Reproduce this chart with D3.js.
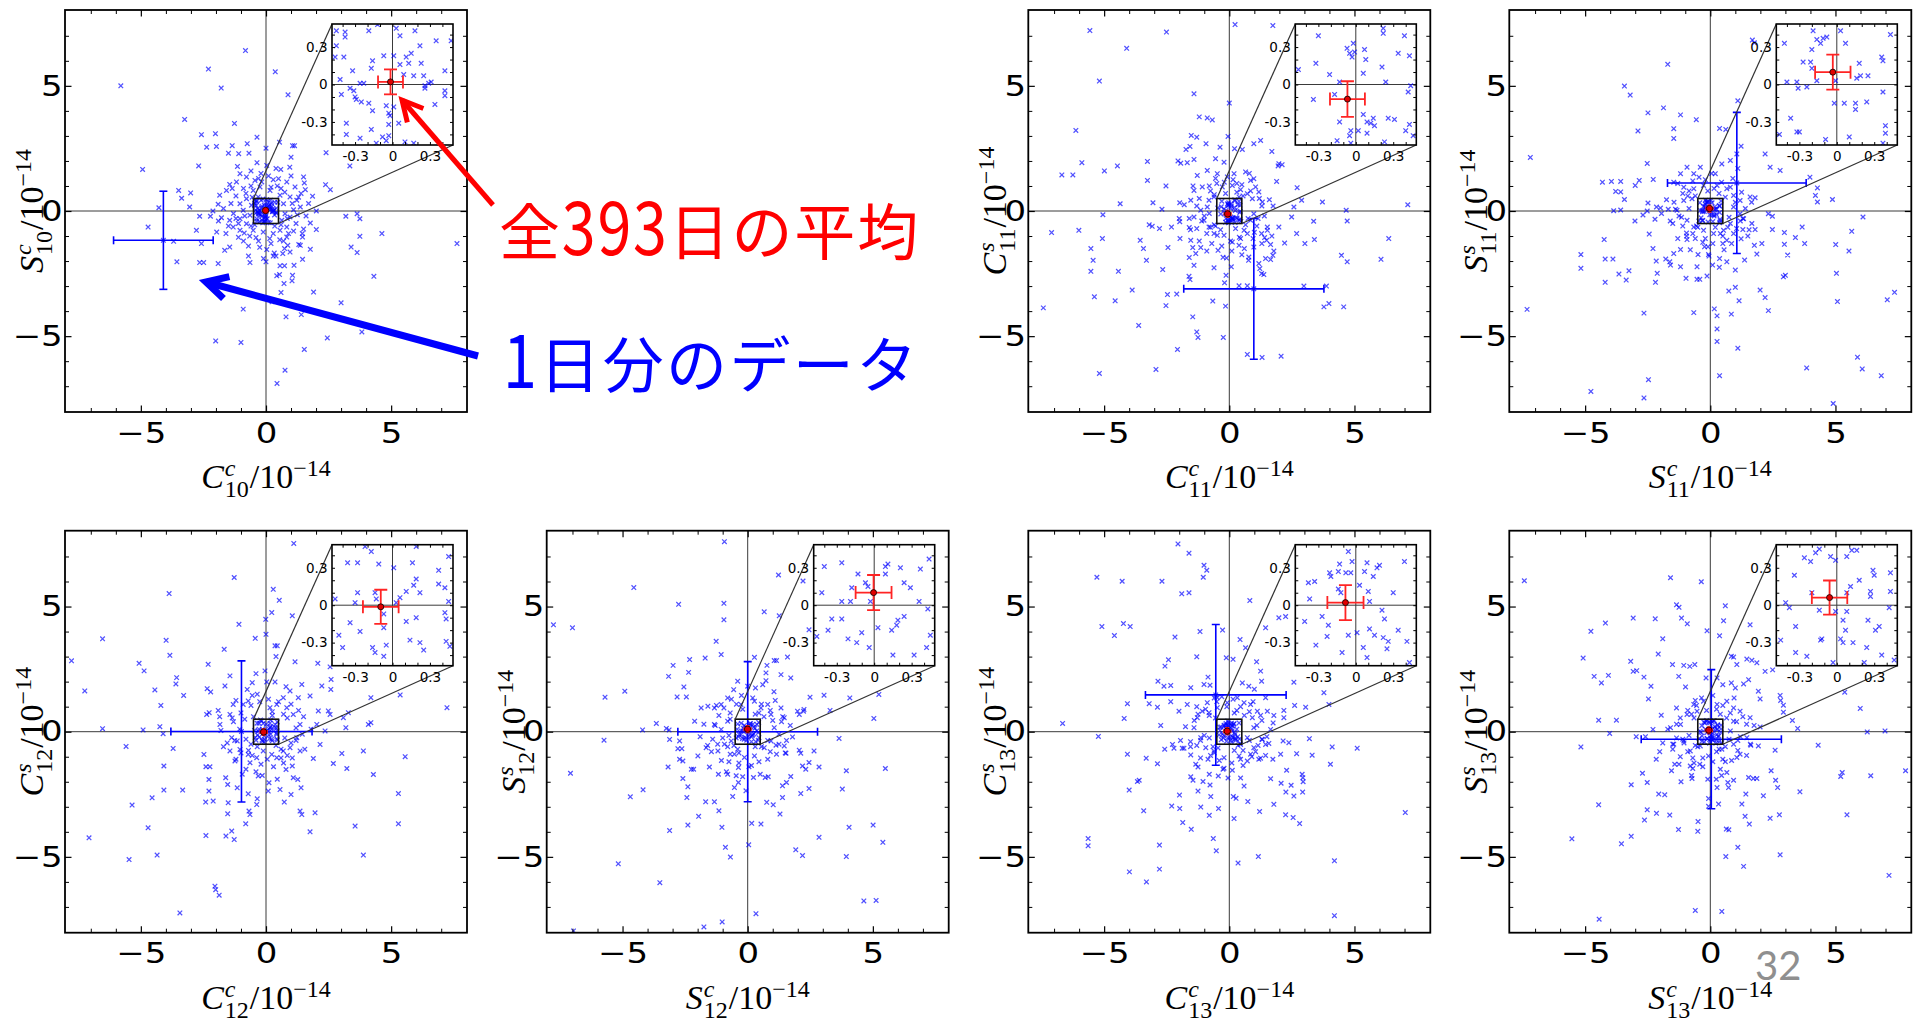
<!DOCTYPE html>
<html>
<head>
<meta charset="utf-8">
<script src="https://cdn.jsdelivr.net/npm/d3@7"></script>
<style>
  body { margin: 0; background: #fff; }
  svg { display: block; }
</style>
</head>
<body>
<svg id="chart" width="1915" height="1031"></svg>
<script>
// ---------------------------------------------------------------
// Daily tidal coefficient estimates (units of 1e-14), one cross per day.
// "Outer" lists are the scattered days, "core" lists are days in the
// crowded centre, "fine" lists are days inside the +-0.5 zoom window.
// ---------------------------------------------------------------
const c10s10Outer = [[-5.8,5.0],[-0.82,6.41],[-2.3,5.67],[-1.79,4.91],[0.37,5.56],[0.88,4.64],[-3.25,3.66],[-1.26,3.5],[-2.58,3.05],[-2.02,3.09],[-2.37,2.55],[-1.98,2.58],[-1.35,2.61],[-0.75,2.69],[-0.36,2.95],[-1.09,2.29],[-0.68,2.31],[-1.5,2.31],[0,2.51],[0.54,2.75],[1.06,2.61],[1.14,2.61],[1.0,2.15],[-4.93,1.66],[-2.69,1.8],[-1.14,1.78],[-0.36,1.93],[0.03,1.82],[0.59,1.66],[2.4,2.33],[3.35,1.8],[2.38,1.05],[2.57,0.85],[-3.49,0.82],[-3.01,0.72],[-3.37,0.51],[-3.05,0.16],[-4.28,0.13],[-4.71,-0.64],[-3.69,-1.21],[-2.58,-1.3],[-2.78,-0.77],[-2.22,-0.21],[-2.65,-0.21],[-2.12,0],[-1.97,-0.84],[-1.45,-1.44],[-1.65,-1.57],[-3.56,-2.03],[-2.65,-2.06],[-2.49,-2.06],[-1.91,-2.1],[-0.64,-2.06],[0,-2.03],[0.29,-1.8],[0.56,-2.19],[0.74,-2.19],[1.12,-2.17],[1.46,-1.93],[1.77,-1.53],[0.43,-2.59],[0.54,-2.54],[0.72,-2.9],[1.06,-2.57],[1.04,-2.79],[0.6,-3.26],[1.9,-3.24],[0.24,-3.63],[-0.91,-3.92],[0.8,-4.23],[1.41,-4.14],[3.0,-3.67],[4.31,-2.61],[3.83,-4.83],[2.45,-5.07],[1.53,-5.53],[-2.01,-5.19],[-1.0,-5.25],[0.76,-6.36],[0.44,-6.89],[7.63,-1.3],[4.63,-0.9],[3.75,-1.01],[3.4,-1.44],[3.64,-1.66],[3.19,-0.21],[3.75,-0.31],[3.64,-0.11],[2.01,0],[1.86,0.59],[1.57,0.85],[1.5,1.36],[1.53,1.12],[1.77,-0.48],[2.01,-0.74],[1.5,-0.72],[1.46,-1.04],[1.31,-1.34],[1.37,-1.37],[0.83,-1.04],[0.87,-1.37],[0.74,-1.5],[0.96,-1.64],[0.67,-1.7],[0.33,-1.68],[0.03,-1.54],[-0.4,-1.06],[-0.87,-0.88],[-1.04,-0.77],[-1.31,-0.64],[-1.45,-0.37],[-1.78,-0.27],[-1.91,0.27],[-1.85,0.63],[-1.58,0.82],[-1.45,1.06],[-1.18,1.16],[-1.04,1.49],[-0.78,1.36],[-0.44,1.22],[-0.17,1.16],[0.29,1.25],[0.5,1.29],[0.83,1.16],[1.16,0.96],[0.96,0.56],[1.23,0.43],[1.1,0.05],[1.37,0.16],[0.96,-0.24],[0.83,-0.64],[0.56,-0.77],[0.29,-0.9],[-0.11,-0.84],[-0.51,-0.77],[-0.78,-0.51],[-1.04,-0.31],[-0.91,0.03],[-1.04,0.29],[-0.78,0.49],[-0.51,0.82],[-0.24,0.96],[0.16,0.82],[0.56,0.63],[0.7,0.29],[0.76,-0.11],[0.63,-0.37],[-0.64,-0.17],[-0.58,0.23],[-0.31,0.56]];
const c10s10Core = [[-1.2,0.6],[-0.9,-1.2],[1.2,-0.5],[0.7,-1.2],[-0.6,1.6],[0.4,1.7],[1.4,0.7],[-1.6,-0.9],[-0.7,-1.4],[0.2,-1.3],[1.0,1.4],[-1.3,-0.1],[1.6,-0.2],[-0.2,1.5],[0.6,0.9],[-0.9,0.9],[-0.6,-0.6],[0.6,-0.55],[-1.1,-0.5],[1.05,0.3],[-0.3,-1.2],[0.35,-0.6],[-0.55,0.55],[0.9,-0.9],[-1.4,0.3],[-1.2,-0.3],[-0.8,0.7],[-0.6,1.0],[-0.3,1.3],[0.1,1.4],[0.45,1.0],[0.75,0.75],[1.3,0.55],[1.25,-0.15],[1.1,-0.8],[0.55,-1.15],[0.15,-1.1],[-0.25,-1.45],[-0.65,-1.0],[-1.1,-1.05],[-1.5,-0.6],[-1.7,0.1],[-1.35,0.9],[0.95,1.75],[-0.1,-1.9],[0.4,-1.8],[1.7,0.3],[-0.7,-1.8],[1.45,-0.9],[-1.9,-0.4],[0.85,-0.3],[-0.85,-0.2],[0.2,0.95],[-0.45,-0.55]];
const c10s10Fine = [[-0.45,0.43],[-0.38,0.42],[-0.38,0.38],[-0.45,0.31],[-0.39,0.22],[-0.46,0.22],[-0.19,0.43],[-0.12,0.48],[0.03,0.45],[0.06,0.39],[0.18,0.43],[0.35,0.35],[0.47,0.35],[0.22,0.31],[0.01,0.23],[-0.07,0.23],[-0.16,0.19],[-0.17,0.13],[-0.32,0.11],[-0.42,0.04],[-0.26,0.01],[-0.23,0.01],[0.06,0.16],[0.11,0.22],[0.15,0.25],[0.13,0.17],[0.23,0.17],[0.25,0.07],[0.17,0.07],[0.09,0.08],[0.42,0.11],[0.31,0.02],[0.29,0.01],[0.26,-0.01],[0.42,-0.05],[0.42,-0.09],[0.34,-0.16],[-0.34,-0.03],[-0.31,-0.05],[-0.3,-0.1],[-0.29,-0.12],[-0.41,-0.08],[-0.25,-0.14],[-0.19,-0.15],[-0.16,-0.21],[-0.05,-0.17],[0.01,-0.18],[-0.03,-0.23],[-0.02,-0.25],[-0.03,-0.32],[0.05,-0.31],[-0.37,-0.31],[-0.37,-0.4],[-0.26,-0.43],[-0.17,-0.36],[-0.08,-0.42],[-0.05,-0.45],[-0.03,-0.41],[-0.13,-0.47],[0.1,-0.46],[0.17,-0.47],[0.26,-0.03]];

const c11c11sOuter = [[-5.57,7.21],[-2.51,7.15],[-4.1,6.5],[0.23,7.45],[1.74,7.41],[-5.19,5.19],[-1.41,4.68],[0,4.31],[-1.2,3.76],[-0.88,3.72],[-0.68,3.64],[-6.13,3.22],[-1.52,3.02],[-1.3,2.95],[-0.05,2.98],[-0.93,2.69],[-0.37,2.55],[0.21,2.49],[0.52,2.46],[0.98,2.69],[1.25,2.82],[1.7,2.38],[-1.57,2.58],[-1.73,2.46],[-5.89,1.93],[-4.47,1.8],[-4.99,1.6],[-3.27,1.98],[-3.27,1.22],[-6.69,1.44],[-6.25,1.44],[-2.53,1.0],[-2.05,2.0],[-1.94,1.91],[-1.68,1.93],[-1.41,2.06],[-0.55,2.09],[-0.21,1.95],[1.98,1.89],[2.11,1.85],[1.89,1.18],[-4.36,0.29],[-3.05,0.33],[-2.69,0.07],[-1.98,0.33],[-5.05,-0.15],[-6.01,-0.77],[-7.1,-0.86],[-3.2,-0.55],[-3.08,-0.61],[-2.79,-0.7],[-2.31,-0.64],[-1.98,-0.43],[-1.6,-0.66],[-5.07,-1.1],[-5.53,-1.5],[-5.44,-1.97],[-5.53,-2.41],[-4.43,-2.41],[-5.39,-3.43],[-4.56,-3.59],[-7.43,-3.87],[-3.56,-1.17],[-3.43,-1.5],[-3.31,-1.97],[-3.88,-3.16],[-3.62,-4.57],[-2.45,-1.46],[-1.97,-1.1],[-1.54,-1.17],[-1.46,-1.46],[-1.14,-1.46],[-1.34,-1.7],[-1.6,-1.86],[-1.41,-2.17],[-2.66,-2.34],[-1.61,-2.61],[-1.57,-2.74],[-2.47,-3.34],[-2.1,-3.32],[-2.53,-3.78],[-1.46,-4.23],[-1.3,-4.83],[-1.25,-5.05],[-2.07,-5.53],[-0.24,-5.05],[-2.93,-6.33],[-5.19,-6.49],[-0.61,-2.27],[-0.45,-1.57],[-0.11,-1.88],[-0.13,-2.57],[-0.19,-2.87],[0.08,-2.23],[0.39,-2.99],[0.72,-2.99],[-0.66,-3.6],[-0.15,-3.8],[0.72,-5.73],[1.31,-5.85],[2.07,-5.8],[0.77,-1.97],[0.78,-1.84],[1.18,-2.1],[1.22,-2.3],[1.29,-2.5],[1.38,-2.54],[1.29,-0.9],[1.41,-1.06],[1.49,-1.17],[1.52,-0.77],[1.65,-1.34],[1.78,-1.6],[1.74,-1.77],[1.45,-1.9],[1.65,-1.94],[1.52,-0.64],[1.98,-0.64],[2.21,-1.28],[2.49,-0.24],[2.69,-0.9],[3.02,-1.3],[3.4,-1.14],[2.98,-3.0],[3.37,-0.41],[3.72,0.36],[2.89,0.43],[2.58,0.16],[4.67,0.03],[4.71,-0.4],[4.48,-1.77],[4.71,-2.03],[3.78,-3.83],[3.98,-3.7],[4.57,-3.83],[3.88,-3.0],[6.37,-1.1],[6.06,-1.93],[7.13,0.25],[1.95,1.8],[2.71,0.93],[0.98,1.29],[0.85,1.22],[1.05,0.96],[1.18,0.76],[1.32,0.36],[0.92,0.49],[0.72,0.69],[0.45,0.85],[0.39,0.56],[-0.61,0.56],[-0.81,0.43],[-0.88,0.16],[-1.14,0.03],[-1.41,-0.24],[-1.01,-0.37],[-0.81,-0.64],[-0.61,-0.9],[-0.21,-0.97],[0.12,-1.24],[0.45,-1.1],[0.72,-0.9],[0.85,-0.37],[0.98,-0.11],[0.59,-0.77],[-1.08,0.96],[-1.41,0.82],[-1.54,0.43],[-1.28,1.42],[-0.88,1.62],[-0.48,1.49],[-0.08,1.36],[0.19,1.49],[0.65,1.56],[-0.28,0.96],[0.12,1.02],[-0.48,-0.97],[0.39,-1.37],[0.98,-1.44]];
const c11c11sCore = [[-1.2,0.5],[-0.7,-1.3],[1.1,-0.6],[0.6,-1.5],[-0.5,1.1],[0.3,0.75],[1.3,0.2],[-1.6,-0.3],[-0.9,-0.9],[0.25,-0.7],[0.8,1.5],[-1.3,-0.7],[1.6,0.45],[-0.15,0.7],[0.55,0.6],[-0.8,1.0],[-0.6,-0.55],[0.65,-0.55],[-1.0,-0.2],[1.15,-0.3],[-0.35,-0.75],[0.1,-1.6],[-0.6,0.65],[0.95,-1.1],[-1.3,0.2],[-1.1,-0.4],[-0.75,0.8],[-0.55,1.3],[-0.2,1.15],[0.15,1.25],[0.5,1.05],[0.85,0.8],[1.2,0.5],[1.4,-0.2],[1.0,-0.85],[0.4,-1.05],[0.05,-1.2],[-0.3,-1.4],[-0.75,-0.65],[-1.2,-1.2],[-1.55,-0.75],[-1.8,0.25],[-1.45,1.0],[1.7,-1.0],[-0.25,-1.85],[0.5,-1.75],[1.75,0.2],[-0.9,-1.6],[1.3,-1.3],[-2.0,-0.3],[0.75,-0.3],[-0.8,-0.1],[0.3,1.1],[-0.55,-0.6]];
const c11c11sFine = [[-0.3,0.39],[-0.32,0.17],[-0.46,0.12],[-0.21,0.08],[-0.13,0.02],[-0.34,-0.12],[-0.17,-0.08],[-0.07,0.29],[-0.05,0.25],[-0.03,0.22],[-0.01,0.26],[0.07,0.28],[0.08,0.2],[0.06,0.09],[0.21,0.14],[0.22,0.45],[0.22,0.41],[0.34,0.25],[0.39,0.39],[0.43,0.23],[0.24,0.02],[0.44,-0.01],[0.42,-0.06],[-0.13,-0.3],[-0.04,-0.37],[0.02,-0.37],[-0.05,-0.41],[0.06,-0.24],[0.09,-0.3],[0.14,-0.27],[0.15,-0.33],[0.12,-0.31],[0.09,-0.39],[0.26,-0.27],[0.31,-0.28],[0.43,-0.32],[0.4,-0.37],[0.46,-0.41],[-0.15,-0.45],[-0.04,-0.47],[0.23,-0.46],[-0.02,0.33]];

const s11s11sOuter = [[-1.7,5.86],[-3.43,4.99],[-3.2,4.63],[-2.49,3.92],[-1.87,4.12],[-1.19,3.84],[-0.56,3.65],[-2.89,3.2],[-1.46,3.29],[-1.46,2.9],[0.37,3.3],[0.62,3.26],[1.1,4.4],[1.23,2.59],[1.68,6.83],[1.76,6.72],[-7.19,2.14],[-2.52,1.9],[-4.31,1.15],[-3.95,1.18],[-3.58,1.18],[-3.78,0.78],[-3.58,0.76],[-3.43,0.46],[-3.86,0.01],[-3.58,0.04],[-2.84,1.22],[-2.28,1.26],[-3.0,1.02],[-3.01,-0.4],[-2.69,-0.16],[-2.49,0.32],[-2.52,0],[-2.21,-0.33],[-2.15,0.16],[-1.99,0.12],[-1.68,0.07],[-1.39,0.07],[-1.33,0.03],[-4.24,-1.14],[-5.17,-1.74],[-5.17,-2.29],[-4.2,-1.92],[-3.89,-1.92],[-4.2,-2.85],[-3.65,-2.52],[-3.36,-2.76],[-3.25,-2.39],[-2.44,-0.92],[-2.29,-1.5],[-2.16,-2.0],[-2.12,-2.49],[-2.19,-2.85],[-1.78,-1.92],[-1.62,-2.03],[-1.59,-2.16],[-1.46,-1.7],[-1.19,-1.54],[-1.19,-2.23],[-0.95,-0.88],[-0.93,-1.14],[-0.97,-2.69],[-0.53,-2.23],[-0.53,-2.73],[-0.42,-2.73],[-0.13,-2.6],[-0.23,-1.43],[-0.09,-1.43],[0.09,-2.16],[0.37,-1.9],[0.36,-2.25],[0.66,-2.03],[-0.07,-1.74],[-0.49,-1.74],[-0.66,-4.06],[-2.65,-4.08],[-7.32,-3.93],[-2.47,-6.74],[-4.77,-7.21],[-2.65,-7.47],[0.16,-3.91],[0.27,-4.19],[0.27,-4.71],[0.27,-5.21],[0.37,-6.58],[0.84,-4.12],[0.74,-3.2],[1.0,-3.05],[1.15,-3.59],[1.1,-5.48],[1.0,-2.36],[1.37,-1.96],[1.86,-1.72],[1.76,-1.37],[2.06,-1.3],[1.23,-1.11],[1.3,-0.74],[1.66,-0.5],[1.79,-0.74],[1.33,-0.31],[1.99,-3.16],[2.19,-3.46],[2.32,-3.98],[2.48,-0.74],[2.32,-0.11],[2.48,-0.21],[2.96,-0.86],[2.96,-1.33],[3.09,-1.76],[2.92,-2.63],[3.0,-2.57],[3.4,-1.06],[3.77,-1.3],[3.67,-0.64],[4.28,0.36],[4.2,0.62],[4.28,0.92],[3.98,1.35],[4.88,0.46],[5.01,-1.34],[5.04,-2.49],[5.08,-3.62],[5.54,-1.6],[5.65,-0.81],[6.1,-0.24],[5.88,-5.84],[6.07,-6.31],[6.83,-6.58],[7.07,-3.55],[7.36,-3.25],[4.91,-7.69],[3.85,-6.27],[2.39,1.75],[2.79,1.62],[2.19,2.28],[1.06,2.28],[0.8,2.02],[0.46,1.88],[0.2,1.49],[-0.4,1.75],[-0.66,1.49],[-0.93,1.75],[-1.19,1.49],[-1.46,1.15],[-1.06,0.95],[-0.66,0.89],[-0.27,1.02],[0.27,1.02],[0.66,0.89],[0.93,0.62],[1.19,0.42],[1.59,0.56],[1.79,0.53],[0.93,0.16],[1.19,-0.11],[0.8,-0.5],[0.53,-0.77],[0.13,-0.9],[-0.27,-0.77],[-0.66,-0.64],[-0.93,-0.37],[-1.06,0.42],[-0.73,0.49],[0.66,-1.17],[0.93,-0.9]];
const s11s11sCore = [[-1.1,0.7],[-0.6,-1.1],[1.2,-0.4],[0.5,-1.3],[-0.7,1.2],[0.35,0.7],[1.4,0.1],[-1.5,-0.5],[-0.95,-1.0],[0.2,-0.65],[0.9,1.3],[-1.25,-0.2],[1.55,-0.75],[-0.1,0.8],[0.6,0.55],[-0.85,0.8],[-0.55,-0.6],[0.7,-0.65],[-1.1,-0.6],[1.0,0.35],[-0.3,-1.25],[0.4,-0.9],[-0.6,0.6],[0.85,-1.3],[-1.45,0.35],[-1.15,-0.25],[-0.9,0.6],[-0.45,1.35],[-0.2,1.25],[0.05,1.5],[0.45,1.15],[0.8,0.95],[1.25,0.75],[1.3,-0.3],[1.05,-0.7],[0.5,-1.0],[0.1,-1.3],[-0.2,-1.1],[-0.7,-0.9],[-1.3,-1.1],[-1.6,-0.4],[-1.75,0.45],[-1.3,1.1],[1.1,1.7],[-0.05,-1.8],[0.55,-1.55],[1.65,0.35],[-0.8,-1.55],[1.5,-1.0],[-1.95,-0.1],[0.75,-0.25],[-0.85,0.1],[0.15,0.9],[-0.5,-0.65]];
const s11s11sFine = [[-0.19,0.43],[-0.16,0.36],[-0.11,0.37],[-0.08,0.38],[-0.13,0.33],[-0.2,0.28],[0.03,0.43],[0.07,0.33],[-0.42,0.33],[-0.27,0.18],[-0.21,0.18],[-0.2,0.13],[-0.16,0.03],[-0.4,0.02],[-0.32,0.02],[-0.24,-0.02],[-0.31,-0.03],[-0.01,0.03],[0.18,0.17],[0.16,0.05],[0.19,0.07],[0.25,0.07],[0.36,0.22],[0.37,0.19],[0.43,0.4],[0.37,-0.06],[-0.02,-0.15],[0.06,-0.15],[0.15,-0.15],[0.15,-0.2],[0.24,-0.14],[-0.37,-0.27],[-0.32,-0.38],[-0.3,-0.38],[-0.46,-0.4],[-0.09,-0.44],[0.1,-0.42],[0.39,-0.33],[0.39,-0.39],[0.37,-0.47]];

const c12c12sOuter = [[-7.77,2.83],[-7.24,1.63],[-6.53,3.71],[-6.53,0.12],[-7.07,-4.24],[-5.47,-5.11],[-5.35,-2.93],[-5.59,-0.59],[-5.07,2.73],[-4.87,2.43],[-4.91,0.07],[-4.55,-2.64],[-4.71,-3.84],[-4.35,-4.93],[-4.44,1.67],[-4.2,1.05],[-4.24,0.2],[-4.11,-0.08],[-4.08,-1.37],[-4.08,-2.33],[-3.99,3.65],[-3.84,3.05],[-3.87,5.52],[-3.71,-0.67],[-3.57,2.16],[-3.6,1.91],[-3.29,1.45],[-3.33,-2.33],[-3.44,-7.24],[-2.48,-0.91],[-2.4,-1.4],[-2.24,-1.4],[-2.28,-1.91],[-2.28,-2.37],[-2.41,-2.81],[-2.11,-2.77],[-2.4,-4.15],[-2.31,2.69],[-2.35,1.72],[-2.21,1.59],[-2.37,0.69],[-2.27,0.76],[-1.91,0.85],[-2.04,-6.17],[-2.01,-6.31],[-1.87,-6.53],[-1.67,3.29],[-1.64,1.83],[-1.44,2.23],[-1.27,6.16],[-1.08,4.29],[-1.61,-1.84],[-1.53,-2.11],[-1.51,-2.84],[-1.53,-3.28],[-1.37,-3.97],[-1.6,-4.17],[-1.27,-4.31],[-1.15,-2.24],[-1.24,-1.17],[-1.15,-0.37],[-0.71,-2.48],[-0.68,-3.17],[-0.64,-3.31],[-0.81,-3.68],[-0.31,-1.77],[-0.35,-2.68],[-0.37,-2.91],[0.12,-2.04],[0.09,-2.37],[0.56,-2.31],[0.73,-2.81],[1.0,-2.51],[1.09,-1.84],[1.27,-1.91],[1.4,-2.24],[0.8,-1.51],[1.05,-1.37],[1.36,-3.17],[1.43,-3.31],[1.76,-4.0],[1.96,-3.24],[1.89,-1.07],[2.16,-0.51],[2.69,-1.27],[3.23,-1.47],[3.03,-0.87],[3.89,-0.77],[4.29,-1.71],[3.56,-3.77],[3.89,-4.93],[5.29,-2.47],[5.29,-3.68],[5.56,-1.0],[5.36,1.47],[7.23,0.96],[4.19,1.36],[4.09,0.29],[4.19,0.36],[3.19,0.16],[3.09,0.56],[3.29,0.76],[2.56,0.69],[2.49,0.83],[2.36,0.03],[2.03,0.29],[2.09,0.83],[2.23,1.83],[2.59,1.69],[2.6,2.09],[2.56,2.59],[2.07,2.73],[1.76,1.43],[1.43,1.89],[1.16,2.79],[0.4,3.0],[0.36,3.43],[0.45,3.43],[1.05,4.63],[0.53,5.25],[0.29,5.69],[0.23,4.76],[-0.01,4.49],[0,3.89],[-0.43,3.73],[1.11,7.52],[-0.4,2.32],[-0.04,2.43],[0.03,1.99],[0.36,1.99],[-0.55,1.96],[-0.75,1.69],[-0.71,1.23],[-0.91,1.09],[-1.31,1.09],[-1.44,0.69],[-1.84,0.29],[-1.37,-0.24],[-1.44,-0.77],[-1.04,-0.71],[-0.71,-0.91],[-0.64,-1.24],[-0.37,-1.04],[-0.11,-0.77],[0.23,-0.91],[0.43,-1.04],[0.69,-0.77],[0.96,-0.64],[1.36,-0.77],[1.23,-0.24],[1.36,0.29],[1.09,0.69],[0.83,0.96],[0.69,1.36],[0.43,1.09],[0.16,0.96],[0.96,1.63],[1.29,1.36]];
const c12c12sCore = [[-1.3,0.4],[-0.8,-1.5],[1.0,-0.45],[0.7,-1.25],[-0.55,1.45],[0.25,0.8],[1.5,0.6],[-1.7,-0.6],[-0.7,-0.75],[0.3,-1.4],[1.0,1.1],[-1.2,-1.1],[1.45,-0.1],[-0.25,1.2],[0.7,0.7],[-1.0,0.75],[-0.6,-0.5],[0.6,-0.7],[-1.05,0.1],[1.2,0.15],[-0.2,-1.3],[0.4,-0.55],[-0.5,0.6],[0.85,-0.95],[-1.35,0.55],[-1.25,-0.35],[-0.85,0.5],[-0.6,1.05],[-0.35,1.5],[0.1,1.3],[0.5,1.2],[0.85,0.55],[1.3,0.85],[1.2,-0.35],[1.05,-1.05],[0.6,-1.05],[0.05,-1.1],[-0.4,-1.6],[-0.55,-0.95],[-1.0,-0.85],[-1.55,-0.45],[-1.8,0.05],[-1.2,1.25],[0.8,1.8],[-0.15,-1.75],[0.45,-1.9],[1.8,0.1],[-0.95,-1.7],[1.55,-0.7],[-1.85,0.6],[0.75,-0.25],[-0.8,-0.3],[0.25,0.65],[-0.35,-0.6]];
const c12c12sFine = [[-0.36,0.34],[-0.28,0.34],[-0.17,0.43],[-0.11,0.33],[0.01,0.3],[0.16,0.34],[0.37,0.28],[0.45,0.39],[0.19,0.21],[0.17,0.16],[0.22,0.1],[0.11,0.11],[0.06,0.06],[0.03,0.02],[0.37,0.17],[0.42,0.14],[0.45,0.03],[-0.28,0.1],[-0.14,0.1],[-0.13,0.05],[-0.3,0.02],[-0.46,0.05],[-0.07,-0.07],[-0.34,-0.14],[-0.26,-0.21],[-0.07,-0.18],[0.11,-0.13],[0.19,-0.1],[0.42,-0.06],[0.43,-0.11],[-0.43,-0.24],[-0.4,-0.34],[-0.16,-0.34],[-0.14,-0.38],[-0.07,-0.41],[-0.05,-0.32],[0.14,-0.28],[0.22,-0.3],[0.25,-0.36],[0.43,-0.29],[0.46,-0.33],[-0.22,0.47],[0.19,0.47]];

const s12s12sOuter = [[-7.76,4.27],[-7.0,4.15],[-7.08,-1.66],[-6.96,-7.96],[-4.55,5.76],[-2.76,5.09],[-0.93,7.59],[-0.95,5.13],[-0.95,4.47],[0.66,4.79],[1.23,6.26],[1.26,4.63],[-1.26,3.61],[-1.06,3.08],[-1.7,2.94],[-2.32,2.88],[-2.98,2.65],[-2.36,2.37],[-3.16,2.21],[-2.55,1.79],[-2.82,1.39],[-2.45,1.39],[-5.7,1.38],[-4.91,1.62],[-5.74,-0.34],[-4.2,0.07],[-3.65,0.33],[-3.25,0.13],[-3.14,0.07],[-3.12,-0.31],[-2.72,-0.37],[-2.79,-0.68],[-2.63,-0.68],[-2.72,-1.1],[-2.59,-1.17],[-3.18,-1.41],[-2.59,-1.87],[-2.39,-2.2],[-2.43,-2.63],[-2.39,-3.73],[-3.12,-3.95],[-4.69,-2.6],[-4.18,-2.32],[-5.17,-5.28],[-3.51,-6.03],[-1.96,-3.38],[-1.75,-7.8],[-1.02,-7.6],[-2.25,-1.5],[-2.16,-1.5],[-1.99,-0.97],[-1.66,-0.64],[-1.53,-1.41],[-1.68,-2.8],[-1.33,-2.8],[-1.15,-3.16],[-1.03,-3.82],[-0.89,-4.62],[-0.69,-5.01],[-1.17,-1.7],[-0.8,-1.7],[-0.46,-1.76],[-0.37,-1.43],[-0.37,-2.03],[-0.53,-2.23],[-0.6,-2.59],[-0.07,-2.36],[0.04,-4.52],[0.16,-3.66],[0.53,-3.69],[0.33,-7.27],[0.23,-1.83],[0.7,-1.83],[0.82,-1.8],[0.76,-2.82],[1.02,-2.92],[1.29,-3.29],[1.39,-2.16],[1.39,-2.63],[1.55,-2.03],[1.72,-1.79],[1.92,-4.72],[2.19,-4.95],[2.12,-2.47],[2.19,-1.37],[2.32,-1.5],[2.45,-1.23],[2.45,-2.27],[2.85,-1.41],[2.85,-4.22],[3.78,-2.29],[3.94,-1.56],[4.05,-3.82],[3.94,-4.99],[3.65,-0.27],[2.65,-0.77],[2.06,-0.74],[2.12,-0.86],[1.46,-0.57],[1.53,-0.86],[1.13,-0.54],[5.5,-1.47],[5.01,-3.73],[5.4,-4.42],[4.64,-6.76],[5.13,-6.74],[5.04,0.53],[5.24,1.49],[4.08,1.35],[3.05,1.46],[3.29,0.85],[2.49,1.38],[2.25,0.89],[2.06,0.69],[1.99,0.82],[2.23,0.82],[1.79,-0.21],[2.45,4.07],[2.21,6.02],[1.72,2.15],[1.33,2.28],[0.73,2.35],[0.73,2.04],[1.06,2.84],[1.15,2.84],[1.59,2.98],[0.77,2.65],[0.27,2.97],[0.6,1.88],[0.31,1.75],[0,1.82],[-0.4,2.02],[-0.56,1.68],[-0.8,1.35],[-1.06,1.09],[-1.33,0.95],[-1.59,1.02],[-1.86,0.95],[-2.12,0.42],[-1.33,0.29],[-1.06,0.09],[-0.8,0.42],[-0.66,-0.37],[-0.93,-0.5],[-1.19,-0.77],[-0.53,-0.9],[-0.13,-1.03],[0.27,-0.97],[0.66,-0.64],[0.93,-0.37],[1.06,0.16],[0.93,0.69],[0.8,1.09],[0.53,0.95],[0.27,1.22],[-0.27,1.09],[1.33,0.95],[1.46,0.56]];
const s12s12sCore = [[-1.15,0.65],[-0.75,-1.2],[1.25,-0.5],[0.8,-1.1],[-0.65,1.3],[0.45,0.75],[1.35,0.4],[-1.45,-0.8],[-0.8,-0.6],[0.15,-1.35],[1.1,1.25],[-1.4,-0.3],[1.55,-0.35],[-0.2,0.9],[0.65,0.6],[-0.95,0.95],[-0.55,-0.55],[0.55,-0.6],[-1.0,-0.25],[1.0,0.45],[-0.35,-0.85],[0.3,-0.6],[-0.7,0.5],[0.9,-0.8],[-1.3,0.25],[-1.2,-0.5],[-0.7,0.75],[-0.45,1.1],[-0.25,1.45],[0.2,1.35],[0.55,1.1],[0.9,0.85],[1.4,0.6],[1.25,-0.1],[1.15,-0.9],[0.45,-1.2],[0.05,-1.4],[-0.35,-1.25],[-0.7,-0.9],[-1.05,-1.15],[-1.6,-0.55],[-1.75,0.3],[-1.25,1.05],[1.05,1.6],[-0.2,-1.8],[0.5,-1.7],[1.7,0.25],[-0.85,-1.6],[1.5,-0.85],[-1.9,-0.2],[0.8,-0.35],[-0.75,-0.15],[0.3,0.7],[-0.4,-0.7]];
const s12s12sFine = [[-0.26,0.34],[-0.4,0.31],[-0.42,0.1],[-0.26,0.03],[-0.19,0.03],[-0.18,0.14],[-0.13,0.25],[-0.07,0.18],[-0.05,0.15],[-0.03,0.03],[0.09,0.25],[0.09,0.31],[0.11,0.33],[0.21,0.3],[0.24,0.18],[0.29,0.14],[0.37,0.29],[0.44,0.37],[0.36,0.03],[0.43,-0.03],[-0.34,-0.11],[-0.26,-0.11],[-0.37,-0.2],[-0.46,-0.25],[-0.21,-0.27],[-0.1,-0.22],[-0.14,-0.3],[0.03,-0.18],[0.14,-0.2],[0.18,-0.16],[0.19,-0.12],[0.24,-0.09],[-0.04,-0.34],[0.15,-0.4],[0.32,-0.4],[0.42,-0.34],[0.45,-0.24]];

const c13c13sOuter = [[-2.05,7.5],[-1.61,7.13],[-1.01,6.65],[-0.9,6.45],[-1.04,6.17],[-5.29,6.17],[-4.28,6.01],[-2.69,6.01],[-1.9,5.51],[-1.61,5.55],[0.82,5.24],[-5.09,4.2],[-4.23,4.32],[-3.96,4.2],[-4.59,3.84],[-2.17,3.78],[-1.17,4.0],[-0.27,4.06],[0.43,3.68],[0.65,3.35],[1.45,4.15],[1.98,4.55],[2.25,4.6],[-1.3,2.99],[-2.43,2.87],[-2.57,2.62],[-0.12,2.95],[0.15,2.89],[1.09,2.79],[1.25,2.42],[1.29,2.02],[0.52,1.95],[0.78,1.82],[-0.85,2.18],[-1.01,1.89],[-0.77,1.86],[-1.54,1.76],[-2.85,2.02],[-2.61,1.82],[-2.34,1.85],[-3.2,1.12],[-4.07,1.12],[-2.87,0.98],[-2.34,1.2],[-2.01,0.82],[-1.68,1.09],[-4.2,0.53],[-2.74,0.25],[-6.66,0.33],[-5.23,-0.19],[-4.07,-0.9],[-3.32,-1.06],[-2.87,-1.28],[-2.58,-0.7],[-2.27,-0.51],[-2.21,-0.66],[-1.88,-0.66],[-1.81,-0.66],[-1.54,-0.93],[-1.34,-1.3],[-1.25,-1.41],[-1.54,-1.8],[-1.45,-1.94],[-1.05,-1.99],[-0.77,-2.13],[-1.25,-2.37],[-0.74,-2.59],[-1.14,-3.01],[-0.8,-3.34],[-1.99,-2.53],[-2.3,-2.97],[-1.98,-3.07],[-1.86,-3.63],[-1.52,-3.9],[-3.67,-1.99],[-3.6,-1.94],[-4.0,-2.33],[-3.42,-3.16],[-5.64,-4.27],[-5.64,-4.56],[-2.79,-4.53],[-2.79,-5.49],[-3.99,-5.6],[-3.31,-6.0],[-0.64,-4.27],[-0.52,-4.76],[-0.43,-3.07],[-0.44,-1.77],[-0.21,-1.46],[0.12,-1.54],[0.16,-2.59],[0.27,-2.66],[0.19,-3.47],[0.35,-5.25],[0.59,-2.17],[0.74,-2.79],[1.21,-3.19],[1.16,-4.99],[1.78,-2.9],[1.65,-1.88],[1.74,-1.1],[1.25,-1.06],[1.18,-1.1],[1.45,-0.51],[1.58,-0.47],[1.32,-0.31],[0.98,-0.64],[0.85,-0.9],[0.72,-1.17],[0.39,-0.97],[2.05,-0.9],[2.15,-0.37],[2.38,-0.44],[2.69,-0.88],[2.29,-1.54],[2.07,-2.06],[2.26,-2.41],[2.47,-2.14],[2.58,-2.57],[2.25,-3.32],[2.55,-3.43],[2.81,-3.67],[2.91,-1.7],[2.94,-1.84],[2.95,-2.0],[2.93,-2.41],[3.2,-0.28],[3.31,-0.94],[4.04,-1.3],[4.11,-0.61],[5.11,-0.66],[4.2,-5.16],[4.2,-7.35],[7.03,-3.23],[3.98,1.09],[3.78,1.56],[2.58,1.98],[2.61,1.05],[3.05,0.98],[2.18,0.85],[2.18,0.56],[1.78,0.65],[1.52,0.82],[1.65,0.09],[1.45,1.36],[1.12,0.82],[0.85,1.09],[0.59,1.16],[0.32,1.36],[-0.08,1.16],[-0.48,0.96],[-0.81,0.76],[-1.08,0.82],[-1.28,0.56],[-1.41,0.16],[-1.14,-0.24],[-0.94,-0.64],[-0.61,-0.77],[-0.21,-1.04],[0.45,-0.51],[0.72,-0.24],[0.98,0.16],[0.92,0.56],[-0.88,1.16],[-0.48,1.36]];
const c13c13sCore = [[-1.25,0.7],[-0.85,-1.1],[1.15,-0.55],[0.55,-1.35],[-0.6,1.35],[0.3,0.85],[1.3,0.45],[-1.55,-0.4],[-0.75,-0.95],[0.2,-0.75],[0.95,1.2],[-1.3,-0.55],[1.5,-0.2],[-0.1,1.0],[0.6,0.65],[-0.95,0.9],[-0.65,-0.6],[0.55,-0.75],[-1.0,-0.15],[1.1,0.25],[-0.4,-1.15],[0.35,-0.55],[-0.55,0.55],[0.9,-1.0],[-1.4,0.45],[-1.15,-0.35],[-0.8,0.65],[-0.5,1.2],[-0.3,1.4],[0.15,1.3],[0.45,1.0],[0.8,0.8],[1.25,0.65],[1.3,-0.3],[1.05,-0.8],[0.45,-1.1],[0.1,-1.25],[-0.25,-1.5],[-0.6,-0.85],[-1.15,-1.05],[-1.55,-0.6],[-1.75,0.2],[-1.3,1.0],[1.0,1.7],[-0.05,-1.85],[0.45,-1.85],[1.75,0.35],[-0.8,-1.7],[1.45,-0.95],[-1.95,-0.35],[0.8,-0.35],[-0.8,-0.25],[0.2,0.75],[-0.45,-0.65]];
const c13c13sFine = [[-0.06,0.43],[-0.03,0.35],[-0.13,0.33],[-0.08,0.26],[-0.04,0.26],[-0.21,0.26],[-0.2,0.23],[-0.14,0.27],[-0.38,0.18],[-0.33,0.19],[-0.37,0.05],[-0.14,0.13],[-0.12,0.1],[0.03,0.16],[0.1,0.11],[0.11,0.03],[0.07,0.27],[0.09,0.34],[0.14,0.23],[0.17,0.3],[0.19,0.32],[0.3,0.1],[0.39,0.35],[0.21,-0.04],[0.23,-0.11],[-0.41,-0.13],[-0.27,-0.09],[-0.22,-0.16],[-0.23,-0.25],[-0.32,-0.32],[-0.11,-0.38],[-0.06,-0.24],[0.01,-0.22],[0.11,-0.19],[0.15,-0.24],[0.22,-0.26],[0.26,-0.29],[0.25,-0.35],[0.34,-0.2],[0.41,-0.29],[0.06,-0.34],[0.09,-0.42],[0.43,-0.46]];

const s13s13sOuter = [[-7.43,6.03],[-1.59,6.15],[-0.36,5.99],[-1.35,5.07],[-1.25,4.97],[0.6,5.03],[-3.08,4.54],[-2.2,4.51],[-1.15,4.54],[-0.92,4.31],[0.53,4.43],[1.59,4.27],[-4.77,4.01],[-4.19,4.34],[-1.9,3.71],[-0.13,4.03],[0.37,3.83],[-5.08,2.94],[-2.08,3.1],[-3.18,2.81],[-3.08,2.41],[-2.94,2.44],[-2.65,2.18],[-4.64,2.21],[-4.35,1.95],[-4.07,2.25],[-1.51,2.68],[-1.06,2.65],[-0.82,2.61],[-0.62,2.68],[-1.26,2.21],[-0.99,1.79],[-2.37,1.82],[-2.47,1.31],[-0.17,2.15],[0.27,2.15],[0.84,3.01],[0.93,2.98],[1.06,2.68],[1.46,2.9],[1.66,2.85],[1.86,2.75],[2.19,2.41],[2.49,2.47],[1.33,1.91],[1.53,2.08],[0.5,1.88],[0.84,1.95],[1.92,1.62],[1.99,1.31],[2.79,1.45],[2.81,1.25],[2.92,1.06],[2.92,0.78],[3.28,0.45],[3.49,0.13],[5.37,1.58],[5.99,0.93],[6.27,-0.01],[6.98,0.03],[7.8,-1.56],[5.21,-1.79],[5.27,-1.63],[6.41,-1.76],[4.31,-0.54],[3.58,-2.4],[5.46,-3.32],[7.14,-5.74],[2.79,-4.92],[1.33,-5.38],[1.1,-4.62],[0.62,-4.99],[0.46,-7.18],[-0.6,-7.14],[-4.44,-7.49],[-5.53,-4.28],[-3.55,-4.48],[-3.16,-4.18],[-4.46,-2.92],[-3.16,-2.12],[-2.71,-1.66],[-2.52,-2.03],[-2.52,-3.12],[-2.63,-3.53],[-2.15,-3.26],[-2.06,-2.49],[-1.82,-2.52],[-1.62,-3.33],[-1.27,-3.91],[-0.49,-3.59],[-0.5,-3.98],[-5.17,-0.61],[-4.02,-0.07],[-4.46,0.46],[-3.75,0.46],[-2.96,-0.2],[-2.59,-0.2],[-2.29,0.09],[-1.96,0.66],[-2.02,-0.8],[-2.16,-1.1],[-1.55,-1.56],[-1.42,-1.3],[-1.25,-1.3],[-1.17,-2.0],[-0.73,-1.87],[-0.8,-1.37],[-0.7,-1.47],[-0.42,-1.3],[-0.07,-0.97],[-0.07,-2.98],[-0.07,-2.67],[0.33,-2.89],[0.24,-1.9],[0.27,-2.23],[0.4,-1.5],[0.66,-1.63],[0.7,-2.03],[0.73,-2.23],[0.64,-3.89],[0.74,-3.92],[0.93,-1.94],[1.26,-2.89],[1.42,-2.49],[1.39,-3.38],[1.56,-3.69],[1.53,-1.83],[1.72,-1.87],[1.86,-1.87],[2.12,-2.56],[2.39,-3.46],[2.76,-3.32],[2.43,-1.56],[2.61,-1.94],[2.69,-2.23],[2.59,-0.74],[1.92,-0.57],[1.62,-0.54],[1.19,-0.9],[1.06,-1.03],[0.93,-0.5],[1.46,-0.24],[1.99,0.19],[1.59,0.56],[1.19,0.82],[0.93,0.95],[0.66,1.22],[0.27,1.09],[-0.27,1.22],[-0.66,1.09],[-0.93,0.69],[-1.19,0.29],[-1.59,0.16],[-1.46,-0.5],[-1.06,-0.37],[-0.8,-0.77],[-0.4,-0.57],[0.46,-0.7],[0.8,0.03],[0.93,0.42],[-0.53,0.82]];
const s13s13sCore = [[-1.2,0.55],[-0.65,-1.25],[1.1,-0.35],[0.6,-1.2],[-0.6,1.25],[0.4,0.7],[1.45,0.3],[-1.5,-0.7],[-0.9,-0.8],[0.25,-0.8],[0.95,1.35],[-1.35,-0.25],[1.6,-0.5],[-0.15,0.85],[0.65,0.55],[-0.9,0.85],[-0.6,-0.55],[0.6,-0.6],[-1.05,-0.45],[1.05,0.4],[-0.3,-1.05],[0.35,-0.7],[-0.65,0.55],[0.85,-1.15],[-1.35,0.3],[-1.1,-0.3],[-0.75,0.7],[-0.55,1.05],[-0.35,1.35],[0.1,1.45],[0.5,1.05],[0.8,0.75],[1.3,0.6],[1.2,-0.2],[1.1,-0.75],[0.5,-1.1],[0.1,-1.2],[-0.3,-1.4],[-0.7,-1.05],[-1.2,-1.0],[-1.5,-0.5],[-1.7,0.1],[-1.35,0.95],[1.0,1.75],[-0.1,-1.9],[0.45,-1.75],[1.75,0.25],[-0.75,-1.75],[1.45,-0.95],[-1.9,-0.45],[0.75,-0.3],[-0.85,-0.15],[0.25,0.9],[-0.5,-0.6]];
const s13s13sFine = [[-0.26,0.38],[-0.21,0.35],[-0.17,0.42],[-0.14,0.45],[-0.05,0.39],[-0.01,0.36],[0.08,0.39],[0.12,0.44],[0.16,0.44],[-0.34,0.24],[-0.2,0.1],[0.11,0.15],[0.08,0.1],[0.18,0.2],[0.27,0.11],[0.27,0.07],[0.29,0.28],[0.3,0.24],[0.43,0.26],[0.43,0.11],[0.42,-0.02],[-0.41,0.02],[-0.38,-0.02],[-0.14,-0.04],[-0.01,-0.05],[0.08,-0.05],[0.05,-0.12],[0.25,-0.12],[0.34,-0.17],[0.31,-0.2],[-0.33,-0.17],[-0.12,-0.27],[-0.13,-0.28],[0.03,-0.27],[0.05,-0.3],[0.07,-0.2],[0.13,-0.3],[0.24,-0.34],[0.36,-0.4],[-0.45,-0.28],[-0.33,-0.38],[-0.24,-0.41],[-0.03,-0.46],[0.22,-0.46],[0.46,-0.44]];

// Average over all 393 days: [x, y, xErr, yErr]
const allDayMeans = [
  [-0.016, 0.021, 0.10, 0.10],
  [-0.067, -0.117, 0.14, 0.143],
  [-0.032, 0.099, 0.142, 0.14],
  [-0.094, -0.013, 0.143, 0.137],
  [-0.005, 0.101, 0.144, 0.141],
  [-0.083, 0.021, 0.145, 0.14],
  [-0.058, 0.061, 0.142, 0.137]
];
// A single day's estimate with its uncertainty: [x, y, xErr, yErr]
const singleDay = [
  [-4.1, -1.17, 1.99, 1.96],
  [0.98, -3.11, 2.8, 2.81],
  [1.06, 1.12, 2.77, 2.82],
  [-0.98, 0.01, 2.82, 2.82],
  [0.0, 0.0, 2.79, 2.8],
  [-0.54, 1.47, 2.81, 2.81],
  [0.04, -0.3, 2.8, 2.78]
];
// Axis symbols: [letter, superscript, subscript]
const xSymbols = [['C','c','10'],['C','c','11'],['S','c','11'],['C','c','12'],['S','c','12'],['C','c','13'],['S','c','13']];
const ySymbols = [['S','c','10'],['C','s','11'],['S','s','11'],['C','s','12'],['S','s','12'],['C','s','13'],['S','s','13']];
const mainTicks = [-5, 0, 5];
const insetTicks = [-0.3, 0, 0.3];
const insetTickText = ['-0.3', '0', '0.3'];
const meanLabel = ['全', '393', '日の平均'];
const dayLabel = ['1', '日分のデータ'];
const pageNumber = '32';

// ---------------------------------------------------------------
// Layout
// ---------------------------------------------------------------
const colX = [65, 546.7, 1028.3, 1509.3];
const rowY = [10, 530.7];
const AX = 402;
const LIM = 8.03;       // main axes half-range
const ZOOM = 0.5;       // half-width of the magnified window
const ILIM = 0.485;     // inset axes half-range
const INS = { dx: 267, dy: 14, size: 121 };
const SANS = '"DejaVu Sans", sans-serif';
const SERIF = '"Liberation Serif", "DejaVu Serif", serif';
const CJK = '"Noto Sans CJK JP", "Noto Sans CJK SC", sans-serif';
const BLUE = '#0000ff', RED = '#ff2424';

const panels = [
  { col: 0, row: 0, outer: c10s10Outer, core: c10s10Core, fine: c10s10Fine },
  { col: 2, row: 0, outer: c11c11sOuter, core: c11c11sCore, fine: c11c11sFine },
  { col: 3, row: 0, outer: s11s11sOuter, core: s11s11sCore, fine: s11s11sFine },
  { col: 0, row: 1, outer: c12c12sOuter, core: c12c12sCore, fine: c12c12sFine },
  { col: 1, row: 1, outer: s12s12sOuter, core: s12s12sCore, fine: s12s12sFine },
  { col: 2, row: 1, outer: c13c13sOuter, core: c13c13sCore, fine: c13c13sFine },
  { col: 3, row: 1, outer: s13s13sOuter, core: s13s13sCore, fine: s13s13sFine }
];

const svg = d3.select('#chart');
svg.append('rect').attr('width', 1915).attr('height', 1031).attr('fill', '#fff');
const defs = svg.append('defs');

function crosses(g, pts, x, y, s) {
  g.append('g')
    .attr('stroke', BLUE).attr('stroke-opacity', 0.68).attr('stroke-width', 1.25).attr('fill', 'none')
    .selectAll('path').data(pts).join('path')
    .attr('d', d => {
      const px = x(d[0]), py = y(d[1]);
      return `M${px - s},${py - s}L${px + s},${py + s}M${px - s},${py + s}L${px + s},${py - s}`;
    });
}

function errorBar(g, d, x, y, color, w, cap) {
  const [mx, my, ex, ey] = d;
  const e = g.append('g').attr('stroke', color).attr('stroke-width', w).attr('fill', 'none');
  e.append('line').attr('x1', x(mx - ex)).attr('x2', x(mx + ex)).attr('y1', y(my)).attr('y2', y(my));
  e.append('line').attr('x1', x(mx)).attr('x2', x(mx)).attr('y1', y(my - ey)).attr('y2', y(my + ey));
  [mx - ex, mx + ex].forEach(v => e.append('line').attr('x1', x(v)).attr('x2', x(v)).attr('y1', y(my) - cap).attr('y2', y(my) + cap));
  [my - ey, my + ey].forEach(v => e.append('line').attr('y1', y(v)).attr('y2', y(v)).attr('x1', x(mx) - cap).attr('x2', x(mx) + cap));
}

function meanDot(g, d, x, y, r) {
  g.append('circle').attr('cx', x(d[0])).attr('cy', y(d[1])).attr('r', r)
    .attr('fill', '#e00000').attr('stroke', '#000').attr('stroke-width', 0.8);
}

// inward tick marks on all four sides of a box
function inwardTicks(g, x, y, L, T, S, vals, len, width) {
  const mk = (axis, tr) => {
    const a = g.append('g').attr('transform', tr)
      .call(axis.tickValues(vals).tickSize(-len).tickSizeOuter(0).tickFormat(''));
    a.select('.domain').remove();
    a.selectAll('line').attr('stroke', '#000').attr('stroke-width', width);
  };
  mk(d3.axisBottom(x), `translate(0,${T + S})`);
  mk(d3.axisTop(x), `translate(0,${T})`);
  mk(d3.axisLeft(y), `translate(${L},0)`);
  mk(d3.axisRight(y), `translate(${L + S},0)`);
}

function zeroLines(g, x, y, w) {
  const [x0, x1] = x.range(), [y0, y1] = y.range();
  g.append('line').attr('x1', x(0)).attr('x2', x(0)).attr('y1', y0).attr('y2', y1).attr('stroke', '#3a3a3a').attr('stroke-width', w);
  g.append('line').attr('y1', y(0)).attr('y2', y(0)).attr('x1', x0).attr('x2', x1).attr('stroke', '#3a3a3a').attr('stroke-width', w);
}

// math-style axis title:  Sym^{sup}_{sub} / 10^{-14}
function mathTitle(g, sym) {
  const t = g.append('text').attr('font-family', SERIF).attr('fill', '#000');
  let cx = 0;
  const part = (txt, size, italic, y) => {
    const s = t.append('tspan').attr('x', cx).attr('y', y).attr('font-size', size)
      .attr('font-style', italic ? 'italic' : 'normal').text(txt);
    return s.node().getComputedTextLength();
  };
  cx += part(sym[0], 34, true, 0) + 1;
  const w1 = part(sym[1], 24, true, -12);
  const w2 = part(sym[2], 24, false, 9);
  cx += Math.max(w1, w2) + 1;
  cx += part('/10', 34, false, 0);
  cx += part('\u221214', 24, false, -12);
  t.attr('transform', `translate(${-cx / 2},0)`);
}

panels.forEach((p, i) => {
  const L = colX[p.col], T = rowY[p.row];
  const x = d3.scaleLinear().domain([-LIM, LIM]).range([L, L + AX]);
  const y = d3.scaleLinear().domain([-LIM, LIM]).range([T + AX, T]);
  const g = svg.append('g');
  const cid = 'clipMain' + i;
  defs.append('clipPath').attr('id', cid).append('rect').attr('x', L).attr('y', T).attr('width', AX).attr('height', AX);
  const body = g.append('g').attr('clip-path', `url(#${cid})`);
  const all = p.outer.concat(p.core, p.fine);

  zeroLines(body, x, y, 1);
  crosses(body, all, x, y, 2.3);
  errorBar(body, singleDay[i], x, y, BLUE, 1.6, 4);
  crosses(body, [singleDay[i]], x, y, 2.3);
  errorBar(body, allDayMeans[i], x, y, RED, 1.2, 2);
  meanDot(body, allDayMeans[i], x, y, 3.2);

  // magnified window and connectors
  const IL = L + INS.dx, IT = T + INS.dy, IS = INS.size;
  g.append('rect').attr('x', x(-ZOOM)).attr('y', y(ZOOM)).attr('width', x(ZOOM) - x(-ZOOM)).attr('height', y(-ZOOM) - y(ZOOM))
    .attr('fill', 'none').attr('stroke', '#111').attr('stroke-width', 1.6);
  g.append('line').attr('x1', x(-ZOOM)).attr('y1', y(ZOOM)).attr('x2', IL).attr('y2', IT).attr('stroke', '#333').attr('stroke-width', 1.2);
  g.append('line').attr('x1', x(ZOOM)).attr('y1', y(-ZOOM)).attr('x2', IL + IS).attr('y2', IT + IS).attr('stroke', '#333').attr('stroke-width', 1.2);

  // inset
  const ix = d3.scaleLinear().domain([-ILIM, ILIM]).range([IL, IL + IS]);
  const iy = d3.scaleLinear().domain([-ILIM, ILIM]).range([IT + IS, IT]);
  const icid = 'clipInset' + i;
  defs.append('clipPath').attr('id', icid).append('rect').attr('x', IL).attr('y', IT).attr('width', IS).attr('height', IS);
  g.append('rect').attr('x', IL).attr('y', IT).attr('width', IS).attr('height', IS).attr('fill', '#fff');
  const ib = g.append('g').attr('clip-path', `url(#${icid})`);
  zeroLines(ib, ix, iy, 1);
  crosses(ib, all, ix, iy, 2.3);
  errorBar(ib, allDayMeans[i], ix, iy, RED, 1.8, 6.5);
  meanDot(ib, allDayMeans[i], ix, iy, 3);
  inwardTicks(g, ix, iy, IL, IT, IS, d3.range(-4, 5).map(v => v / 10), 3, 1);
  g.append('rect').attr('x', IL).attr('y', IT).attr('width', IS).attr('height', IS)
    .attr('fill', 'none').attr('stroke', '#000').attr('stroke-width', 1.6);
  const ifmt = v => insetTickText[insetTicks.indexOf(v)];
  const ixa = g.append('g').attr('transform', `translate(0,${IT + IS})`)
    .call(d3.axisBottom(ix).tickValues(insetTicks).tickSize(0).tickPadding(6.5).tickFormat(ifmt));
  const iya = g.append('g').attr('transform', `translate(${IL},0)`)
    .call(d3.axisLeft(iy).tickValues(insetTicks).tickSize(0).tickPadding(4.5).tickFormat(ifmt));
  [ixa, iya].forEach(a => {
    a.select('.domain').remove();
    a.attr('font-family', SANS).attr('font-size', 13.5);
    a.selectAll('text').attr('fill', '#000');
  });

  // main frame and ticks
  inwardTicks(g, x, y, L, T, AX, d3.range(-7, 8).filter(v => v % 5 !== 0), 4, 1);
  inwardTicks(g, x, y, L, T, AX, mainTicks, 6.5, 1.2);
  g.append('rect').attr('x', L).attr('y', T).attr('width', AX).attr('height', AX)
    .attr('fill', 'none').attr('stroke', '#000').attr('stroke-width', 1.8);

  const fmt = v => (v < 0 ? '\u2212' + (-v) : String(v));
  const xa = g.append('g').attr('transform', `translate(0,${T + AX})`)
    .call(d3.axisBottom(x).tickValues(mainTicks).tickSize(0).tickPadding(10).tickFormat(fmt));
  const ya = g.append('g').attr('transform', `translate(${L},0)`)
    .call(d3.axisLeft(y).tickValues(mainTicks).tickSize(0).tickPadding(2).tickFormat(fmt));
  [xa, ya].forEach(a => {
    a.select('.domain').remove();
    a.attr('font-family', SANS).attr('font-size', 29);
    a.selectAll('text').attr('fill', '#000').attr('transform', 'scale(1.17,1)');
  });

  // axis titles
  mathTitle(g.append('g').attr('transform', `translate(${L + AX / 2},${T + AX + 76})`), xSymbols[i]);
  mathTitle(g.append('g').attr('transform', `translate(${L - 22},${T + AX / 2}) rotate(-90)`), ySymbols[i]);
});

// ---------------------------------------------------------------
// Call-out labels and arrows
// ---------------------------------------------------------------
function arrow(tail, tip, color, w, len, ang) {
  const a = Math.atan2(tail[1] - tip[1], tail[0] - tip[0]);
  svg.append('line').attr('x1', tail[0]).attr('y1', tail[1]).attr('x2', tip[0]).attr('y2', tip[1])
    .attr('stroke', color).attr('stroke-width', w);
  const p1 = [tip[0] + len * Math.cos(a + ang), tip[1] + len * Math.sin(a + ang)];
  const p2 = [tip[0] + len * Math.cos(a - ang), tip[1] + len * Math.sin(a - ang)];
  svg.append('path').attr('d', `M${p1[0]},${p1[1]}L${tip[0]},${tip[1]}L${p2[0]},${p2[1]}`)
    .attr('fill', 'none').attr('stroke', color).attr('stroke-width', w).attr('stroke-linejoin', 'miter');
}
arrow([493, 205], [402, 100], '#ff0000', 5, 23, 0.48);
arrow([478, 356], [206, 282], '#0000ff', 7, 24, 0.49);

function calloutText(x0, base, parts, color, gap) {
  let cx = x0;
  parts.forEach(s => {
    const digits = /^[0-9]+$/.test(s);
    const t = svg.append('text').attr('font-family', CJK).attr('font-size', 61).attr('fill', color)
      .attr('letter-spacing', gap)
      .attr('transform', `translate(${cx},${base}) scale(1,${digits ? 1.22 : 1})`).text(s);
    cx += t.node().getComputedTextLength();
  });
}
calloutText(499, 255, meanLabel, '#ff0000', 1.8);
calloutText(503, 388, dayLabel, '#0000ff', 2.4);

svg.append('text').attr('x', 1755).attr('y', 980).attr('font-family', 'Lato, "Liberation Sans", sans-serif')
  .attr('font-size', 40).attr('fill', '#8f8f8f').text(pageNumber);
</script>
</body>
</html>
